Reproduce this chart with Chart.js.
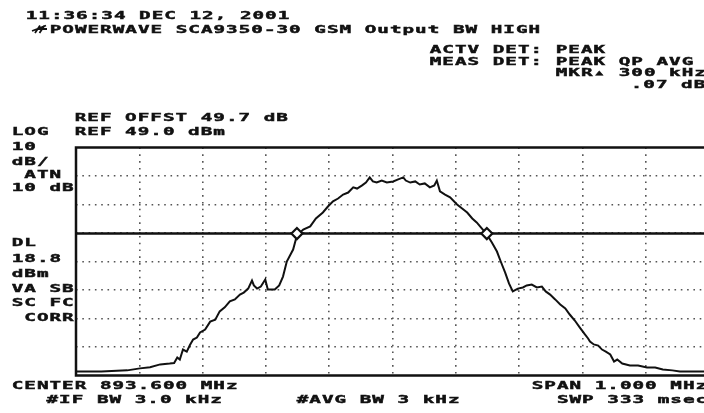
<!DOCTYPE html>
<html><head><meta charset="utf-8">
<script src="https://cdn.jsdelivr.net/npm/chart.js@4.4.1/dist/chart.umd.min.js"></script>
<style>
html,body{margin:0;padding:0;background:#fff;overflow:hidden;width:704px;height:413px;}
#wrap{position:absolute;left:0;top:0;width:720px;height:413px;}
canvas{display:block;}
</style></head><body>
<div id="wrap"><canvas id="c" width="720" height="413"></canvas></div>
<script>
// ---------------- data ----------------
const freqMHz = [
 893.100,893.140,893.181,893.201,893.217,893.233,893.248,893.255,893.260,893.264,
 893.269,893.275,893.280,893.285,893.291,893.296,893.304,893.312,893.320,893.327,
 893.335,893.343,893.351,893.359,893.365,893.372,893.378,893.381,893.386,893.392,
 893.399,893.403,893.414,893.421,893.427,893.433,893.443,893.449,893.459,893.470,
 893.479,893.490,893.498,893.506,893.514,893.522,893.530,893.538,893.544,893.552,
 893.558,893.564,893.569,893.575,893.583,893.591,893.601,893.609,893.617,893.621,
 893.628,893.636,893.643,893.651,893.659,893.666,893.670,893.675,893.683,893.691,
 893.702,893.710,893.718,893.726,893.733,893.741,893.749,893.757,893.765,893.771,
 893.778,893.784,893.790,893.798,893.806,893.812,893.820,893.828,893.836,893.842,
 893.849,893.857,893.865,893.873,893.880,893.888,893.896,893.904,893.909,893.912,
 893.918,893.925,893.931,893.937,893.944,893.950,893.955,893.963,893.975,893.988,
 894.002,894.015,894.027,894.042,894.054,894.073,894.100
];
const levelDbm = [
 -29.6,-29.6,-29.2,-28.5,-28.1,-27.1,-26.8,-26.6,-24.7,-25.4,
 -21.9,-22.6,-20.3,-18.4,-17.7,-15.9,-14.9,-12.1,-11.4,-8.5,
 -7.1,-5.0,-4.3,-2.6,-1.9,-0.5,2.3,0.6,-0.5,0.2,
 2.7,-0.8,-0.8,0.6,3.7,9.0,13.2,18.1,20.2,21.3,
 24.1,26.2,28.3,30.1,31.1,32.5,33.2,35.0,34.6,35.7,
 36.7,38.5,37.1,36.7,37.4,36.7,37.1,37.8,38.5,37.4,
 36.7,37.1,36.0,36.4,35.0,35.7,37.4,33.6,32.5,31.5,
 29.0,27.6,26.2,24.1,22.7,20.6,18.5,15.7,12.5,9.0,
 5.1,1.3,-1.5,-0.5,-0.1,0.6,0.9,-0.1,0.2,-1.5,
 -2.6,-4.3,-6.1,-7.5,-9.6,-11.7,-14.2,-16.6,-18.0,-19.1,
 -20.1,-20.5,-21.9,-22.6,-23.6,-26.1,-25.4,-26.8,-27.5,-27.5,
 -28.2,-28.2,-28.9,-29.2,-29.6,-29.6,-29.6
];
const displayLineDbm = 18.8;
const markerFreqMHz = [893.449, 893.749];
const markerLevelDbm = [18.8, 18.8];
const refLevelDbm = 49.0;
const dbPerDiv = 10;
const verticalDivs = 8;
const centerMHz = 893.6;
const spanMHz = 1.0;
const horizontalDivs = 10;

// ---------------- texts ----------------
const headerTexts = ["11:36:34 DEC 12, 2001", "POWERWAVE SCA9350-30 GSM Output BW HIGH"];
const statusTexts = ["ACTV DET: PEAK", "MEAS DET: PEAK QP AVG", "MKR\u25B4 300 kHz", "     .07 dB"];
const refTexts = ["REF OFFST 49.7 dB", "REF 49.0 dBm"];
const leftUpperTexts = ["LOG", "10", "dB/", " ATN", "10 dB"];
const leftLowerTexts = ["DL", "18.8", "dBm", "VA SB", "SC FC", " CORR"];
const bottomLeftTexts = ["CENTER 893.600 MHz", "   #IF BW 3.0 kHz"];
const bottomMidTexts = ["#AVG BW 3 kHz"];
const bottomRightTexts = ["SPAN 1.000 MHz", "  SWP 333 msec"];

// ---------------- layout (positions only) ----------------
const PITCH = 12.6, GLYPH_W = 9, SX = 1.75;
const textBlocks = [
  {lines: headerTexts, x: [27, 51], y: [18.5, 32.5]},
  {lines: statusTexts, x: [431, 431, 557, 569], y: [53, 64.5, 76, 87.5]},
  {lines: refTexts, x: [76, 76], y: [121, 135]},
  {lines: leftUpperTexts, x: [13,13,13,13,13], y: [134.5, 150, 164.5, 178, 191]},
  {lines: leftLowerTexts, x: [13,13,13,13,13,13], y: [246, 262, 276.5, 291.5, 306, 320.5]},
  {lines: bottomLeftTexts, x: [13, 10], y: [388.5, 403]},
  {lines: bottomMidTexts, x: [298], y: [403]},
  {lines: bottomRightTexts, x: [533, 533], y: [388.5, 403]}
];

const minDbm = refLevelDbm - dbPerDiv * verticalDivs;
const xMin = centerMHz - spanMHz / 2, xMax = centerMHz + spanMHz / 2;
const yGrid = Array.from({length: verticalDivs + 1}, (_, i) => refLevelDbm - i * dbPerDiv);
const xGrid = Array.from({length: horizontalDivs + 1}, (_, i) => xMin + i * spanMHz / horizontalDivs);

const traceData = freqMHz.map((f, i) => ({x: f, y: levelDbm[i]}));
const markerData = markerFreqMHz.map((f, i) => ({x: f, y: markerLevelDbm[i]}));
const dlData = [{x: xMin, y: displayLineDbm}, {x: xMax, y: displayLineDbm}];

function drawMono(ctx, str, x, base) {
  for (let i = 0; i < str.length; i++) {
    const ch = str[i];
    if (ch === ' ') continue;
    ctx.save();
    ctx.translate(x + i * PITCH + GLYPH_W / 2, base);
    ctx.scale(SX, 1);
    ctx.fillText(ch, 0, 0);
    ctx.strokeText(ch, 0, 0);
    ctx.restore();
  }
}

const framePlugin = {
  id: 'frame',
  beforeDatasetsDraw(chart) {
    const {ctx, chartArea: a} = chart;
    ctx.save();
    ctx.strokeStyle = '#111';
    ctx.lineWidth = 2.5;
    ctx.beginPath();
    ctx.moveTo(a.right + 2, a.top);
    ctx.lineTo(a.left, a.top);
    ctx.lineTo(a.left, a.bottom);
    ctx.lineTo(a.right + 2, a.bottom);
    ctx.stroke();
    ctx.restore();
  },
  afterDraw(chart) {
    const ctx = chart.ctx;
    ctx.save();
    ctx.fillStyle = '#111';
    ctx.strokeStyle = '#111';
    ctx.lineWidth = 0.45;
    ctx.font = 'bold 11px "DejaVu Sans Mono"';
    ctx.textAlign = 'center';
    ctx.textBaseline = 'alphabetic';
    textBlocks.forEach(b => b.lines.forEach((s, i) => drawMono(ctx, s, b.x[i], b.y[i])));
    // logo
    ctx.lineWidth = 1.8;
    ctx.beginPath();
    ctx.moveTo(32, 31); ctx.lineTo(46, 25.5);
    ctx.moveTo(35, 33); ctx.lineTo(40, 25.5);
    ctx.moveTo(39.5, 33); ctx.lineTo(44.5, 25.5);
    ctx.moveTo(38, 29); ctx.lineTo(47, 29);
    ctx.stroke();
    ctx.restore();
  }
};

const gridColor = (ctx) => (ctx.index === 0 || ctx.index === ctx.scale.ticks.length - 1) ? 'rgba(0,0,0,0)' : '#555';

new Chart(document.getElementById('c'), {
  type: 'line',
  data: {
    datasets: [
      {data: markerData, showLine: false, pointStyle: 'rectRot', pointRadius: 5.5,
       pointBorderWidth: 2.2, pointBackgroundColor: '#fff', pointBorderColor: '#111'},
      {data: traceData, borderColor: '#111', borderWidth: 2, pointRadius: 0, tension: 0, fill: false},
      {data: dlData, borderColor: '#111', borderWidth: 2.5, pointRadius: 0, fill: false}
    ]
  },
  options: {
    responsive: false,
    animation: false,
    events: [],
    layout: {padding: {left: 76, top: 147.5, right: 11, bottom: 37.5}},
    plugins: {legend: {display: false}, tooltip: {enabled: false}},
    scales: {
      x: {
        type: 'linear', min: xMin, max: xMax,
        afterBuildTicks: s => { s.ticks = xGrid.map(v => ({value: v})); },
        afterFit: s => { s.height = 0; },
        ticks: {display: false},
        grid: {color: gridColor, lineWidth: 1.6, drawTicks: false, borderDash: [1.6, 5.2]},
        border: {display: false, dash: [1.6, 5.2]}
      },
      y: {
        type: 'linear', min: minDbm, max: refLevelDbm,
        afterBuildTicks: s => { s.ticks = yGrid.map(v => ({value: v})); },
        afterFit: s => { s.width = 0; },
        ticks: {display: false},
        grid: {color: gridColor, lineWidth: 1.6, drawTicks: false, borderDash: [1.6, 4.7]},
        border: {display: false, dash: [1.6, 4.7]}
      }
    }
  },
  plugins: [framePlugin]
});
</script>
</body></html>
